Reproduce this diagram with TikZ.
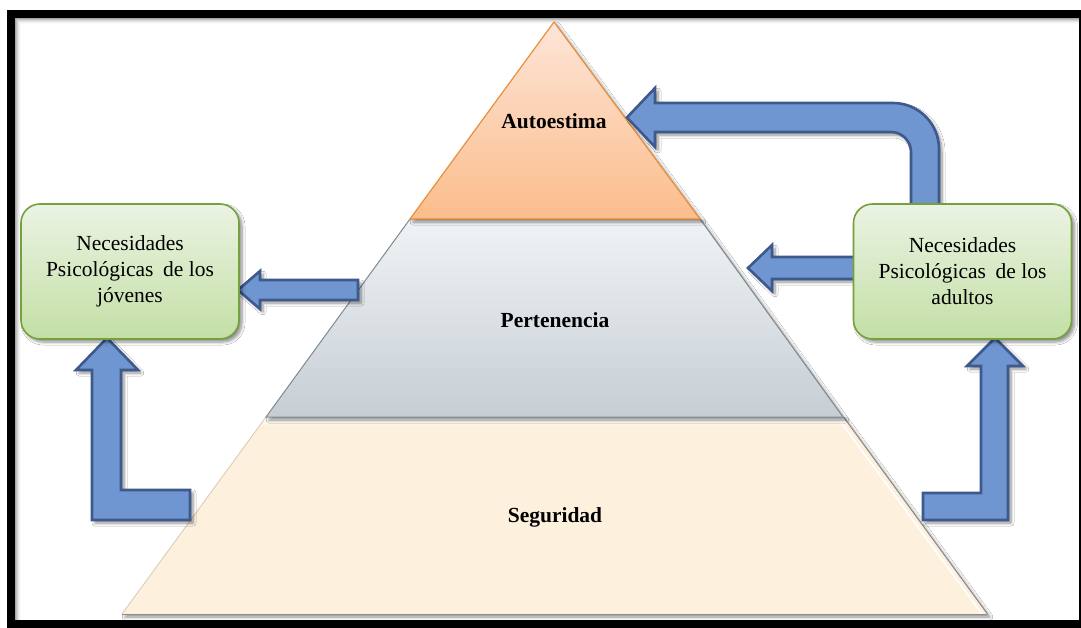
\documentclass[tikz,border=0pt]{standalone}
\usepackage{fontspec}
\setmainfont{Liberation Serif}
\usetikzlibrary{shadows.blur}

\definecolor{arrowfill}{HTML}{6F96D1}
\definecolor{arrowline}{HTML}{3E5A8D}
\definecolor{boxtop}{HTML}{EBF3E3}
\definecolor{boxbottom}{HTML}{C3DFA5}
\definecolor{boxline}{HTML}{76A03E}
\definecolor{peaktop}{HTML}{FDE5D8}
\definecolor{peakbottom}{HTML}{FBBD8B}
\definecolor{peakline}{HTML}{E98E3B}
\definecolor{midtop}{HTML}{F0F3F5}
\definecolor{midbottom}{HTML}{C6CED4}
\definecolor{midline}{HTML}{7E8A93}
\definecolor{basefill}{HTML}{FDF0DD}
\definecolor{baseedge}{HTML}{D9C9B0}

\tikzset{
  softshadow/.style={blur shadow={shadow xshift=3pt, shadow yshift=-3pt,
      shadow blur steps=6, shadow blur radius=3pt, shadow opacity=45}},
  blockarrow/.style={fill=arrowfill, draw=arrowline, line width=2.6pt,
      line join=miter, softshadow},
  needbox/.style={rectangle, rounded corners=19pt, draw=boxline, line width=1.6pt,
      top color=boxtop, bottom color=boxbottom, minimum width=218pt,
      minimum height=135pt, inner sep=0pt, align=center,
      font=\fontsize{21.5}{26}\selectfont, softshadow},
  levellabel/.style={font=\bfseries\fontsize{21.5}{24}\selectfont, inner sep=0pt}
}

\begin{document}
\begin{tikzpicture}[x=1pt, y=-1pt]
\useasboundingbox (0,0) rectangle (1081,628);
\fill[white] (0,0) rectangle (1081,628);

% soft inner shade along the frame
\foreach \i/\o in {0/0.35,1/0.25,2/0.17,3/0.10,4/0.05,5/0.02}{
  \draw[black, opacity=\o, line width=1pt] (15.5+\i,628) -- (15.5+\i,18.5+\i) -- (1081,18.5+\i);
}

% pyramid: base level
\path[fill=basefill, softshadow] (266,417) -- (843,417) -- (987,614) -- (122,614) -- cycle;
\shade[top color=white, bottom color=basefill] (266,417) -- (843,417) -- (850.3,427) -- (258.7,427) -- cycle;
\draw[baseedge, line width=0.8pt] (266,417) -- (122,614);
\draw[white, line width=1.6pt] (840,421) -- (982,614);
\draw[black!45, line width=1pt] (843.6,417) -- (987.5,614);
\draw[black!45, line width=1.2pt] (122,614.6) -- (987,614.6);

% pyramid: middle level
\path[draw=midline, line width=1pt, top color=midtop, bottom color=midbottom, softshadow]
  (410,219) -- (700,219) -- (843,417) -- (266,417) -- cycle;

% pyramid: top level
\path[draw=peakline, line width=1.2pt, top color=peaktop, bottom color=peakbottom, softshadow]
  (554,22) -- (700,219) -- (410,219) -- cycle;

\node[levellabel] (peak) at (554,121) {Autoestima};
\node[levellabel] (middle) at (555,320) {Pertenencia};
\node[levellabel] (base) at (555,517) {Seguridad};

% block arrows
\path[blockarrow] (358,280) -- (260,280) -- (260,271) -- (238,290) -- (260,309)
  -- (260,300) -- (358,300) -- cycle;
\path[blockarrow] (858,257) -- (772,257) -- (772,245) -- (748,268) -- (772,291)
  -- (772,279) -- (858,279) -- cycle;
\path[blockarrow] (655,103) -- (893,103)
  .. controls (918.4,103) and (939,123.6) .. (939,149)
  -- (939,210) -- (911,210) -- (911,152)
  .. controls (911,141) and (902,132) .. (891,132)
  -- (655,132) -- (655,147) -- (627,117.5) -- (655,88) -- cycle;
\path[blockarrow] (107,338) -- (138,370) -- (121,370) -- (121,490) -- (190,490)
  -- (190,520) -- (92,520) -- (92,370) -- (76,370) -- cycle;
\path[blockarrow] (995,338) -- (1023,366) -- (1008,366) -- (1008,520) -- (923,520)
  -- (923,493) -- (981,493) -- (981,366) -- (967,366) -- cycle;

% need boxes
\node[needbox] (young) at (130,271.5) {Necesidades\\Psicológicas\hspace{0.45em}de los\\jóvenes};
\node[needbox] (adult) at (962.5,271.5) {Necesidades\\Psicológicas\hspace{0.45em}de los\\adultos};

% frame
\draw[black, line width=8pt] (11,14) rectangle (1083,624);
\end{tikzpicture}
\end{document}
